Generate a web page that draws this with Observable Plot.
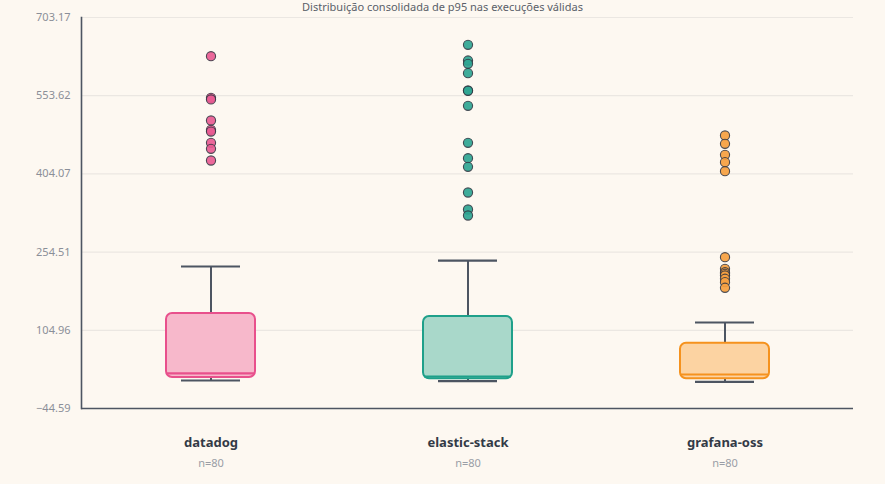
<!DOCTYPE html>
<html>
<head>
<meta charset="utf-8">
<script src="https://cdn.jsdelivr.net/npm/d3@7"></script>
<script src="https://cdn.jsdelivr.net/npm/@observablehq/plot@0.6"></script>
<style>
  html, body { margin: 0; padding: 0; background: #fdf8f1; overflow: hidden; }
  #wrap { position: relative; width: 885px; height: 484px; }
  #title { position: absolute; top: 0px; left: 0; width: 885px; text-align: center;
           font: 11px "Noto Sans", sans-serif; color: #5a5f69; line-height: 13px; }
  svg { display: block; }
</style>
</head>
<body>
<div id="wrap">
  <div id="chart"></div>
  <div id="title">Distribuição consolidada de p95 nas execuções válidas</div>
</div>
<script>
const categories = ["datadog", "elastic-stack", "grafana-oss"];
const counts = [80, 80, 80];
const whiskerLow = [9.0, 7.6, 6.5];
const q1 = [14.7, 12.2, 12.2];
const median = [22.4, 16.6, 20.4];
const q3 = [137.1, 131.4, 80.3];
const whiskerHigh = [227.0, 238.4, 119.9];
const outliersDatadog = [629.2, 549.6, 546.4, 506.2, 488.4, 485.1, 463.5, 452.1, 429.7];
const outliersElastic = [651.0, 620.9, 614.6, 596.7, 563.6, 563.0, 534.3, 463.5, 434.1, 417.6, 368.5, 336.0, 324.5];
const outliersGrafana = [477.5, 461.6, 440.6, 426.5, 409.2, 244.8, 222.6, 216.1, 213.0, 209.8, 203.5, 197.0, 186.3];
const yTicks = [-44.59, 104.96, 254.51, 404.07, 553.62, 703.17];
const strokeColors = ["#e8508c", "#1fa08a", "#f5921e"];
const fillColors = ["#f7b8cb", "#a9d8ca", "#fcd3a2"];
const dotColors = ["#e95b92", "#2fa592", "#f6a040"];

const stats = categories.map((c, i) => ({
  cat: c, n: counts[i], lo: whiskerLow[i], q1: q1[i], med: median[i], q3: q3[i], hi: whiskerHigh[i],
  stroke: strokeColors[i], fill: fillColors[i]
}));
const outlierLists = [outliersDatadog, outliersElastic, outliersGrafana];
const outliers = outlierLists.flatMap((arr, i) => arr.map(v => ({cat: categories[i], v, fill: dotColors[i]})));

const boxInset = 84;
const capInset = 99;

const chart = Plot.plot({
  width: 885,
  height: 484,
  marginLeft: 81,
  marginRight: 32,
  marginTop: 17,
  marginBottom: 76,
  style: {background: "transparent", fontFamily: "Noto Sans, sans-serif"},
  x: {domain: categories, padding: 0, axis: null},
  y: {domain: [-44.59, 703.17], ticks: yTicks, tickFormat: d3.format(".2f"), grid: false, label: null},
  marks: [
    Plot.ruleY(yTicks, {stroke: "#ebe7e2", strokeWidth: 1.2}),
    Plot.axisY({ticks: yTicks, tickFormat: d3.format(".2f"), tickSize: 0, tickPadding: 11, fontSize: 11, color: "#8b8f98", label: null}),
    Plot.ruleX(stats, {x: "cat", y1: "q3", y2: "hi", stroke: "#4d5562", strokeWidth: 2}),
    Plot.ruleX(stats, {x: "cat", y1: "lo", y2: "q1", stroke: "#4d5562", strokeWidth: 2}),
    Plot.tickY(stats, {x: "cat", y: "hi", stroke: "#4d5562", strokeWidth: 2.2, inset: capInset}),
    Plot.tickY(stats, {x: "cat", y: "lo", stroke: "#4d5562", strokeWidth: 2.2, inset: capInset}),
    Plot.barY(stats, {x: "cat", y1: "q1", y2: "q3", fill: d => d.fill, stroke: d => d.stroke, strokeWidth: 2, insetLeft: boxInset, insetRight: boxInset, rx: 6}),
    Plot.tickY(stats, {x: "cat", y: "med", stroke: d => d.stroke, strokeWidth: 2.2, inset: boxInset + 1}),
    Plot.dot(outliers, {x: "cat", y: "v", r: 4.6, fill: d => d.fill, fillOpacity: 0.92, stroke: "#2f3440", strokeOpacity: 0.85, strokeWidth: 1.1}),
    Plot.ruleY([-44.59], {stroke: "#4d5562", strokeWidth: 1.6}),
    Plot.frame({anchor: "left", stroke: "#4d5562", strokeWidth: 1.6}),
    Plot.text(stats, {x: "cat", frameAnchor: "bottom", dy: 38, text: "cat", fontWeight: "bold", fontSize: 13, fill: "#333a46"}),
    Plot.text(stats, {x: "cat", frameAnchor: "bottom", dy: 58, text: d => "n=" + d.n, fontSize: 11, fill: "#9a9ea6"})
  ]
});
document.getElementById("chart").appendChild(chart);
</script>
</body>
</html>
